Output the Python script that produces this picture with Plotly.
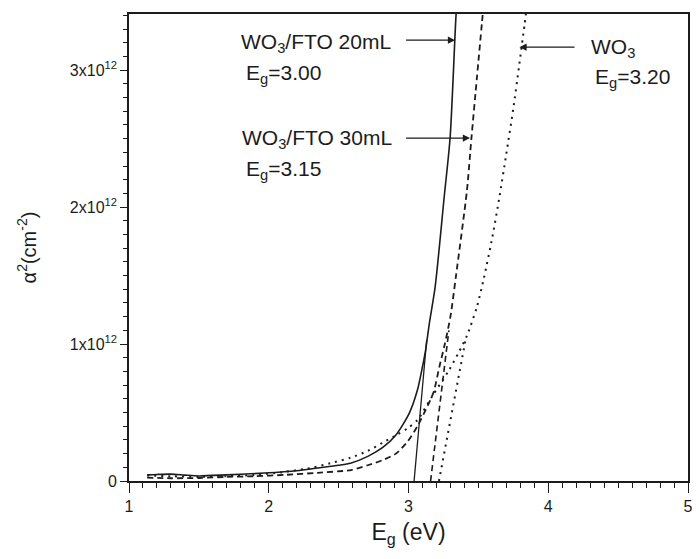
import plotly.graph_objects as go

# ---- data (energy in eV, alpha^2 in units of 1e12 cm^-2) ----
x_20 = [1.13, 1.2, 1.3, 1.4, 1.5, 1.7, 1.97, 2.2, 2.35, 2.5, 2.585, 2.709, 2.816, 2.91, 3.005, 3.064, 3.10, 3.123, 3.149, 3.191, 3.255, 3.298, 3.34, 3.345]
y_20 = [0.045, 0.048, 0.05, 0.043, 0.037, 0.045, 0.058, 0.075, 0.095, 0.115, 0.13, 0.18, 0.245, 0.336, 0.494, 0.664, 0.834, 0.96, 1.15, 1.42, 2.07, 2.51, 3.40, 3.45]

x_30 = [1.13, 1.3, 1.5, 1.7, 1.9, 2.12, 2.35, 2.589, 2.709, 2.816, 2.91, 2.993, 3.064, 3.123, 3.18, 3.22, 3.26, 3.30, 3.34, 3.418, 3.45, 3.49, 3.525, 3.535]
y_30 = [0.025, 0.02, 0.022, 0.03, 0.035, 0.045, 0.06, 0.08, 0.115, 0.153, 0.20, 0.287, 0.40, 0.52, 0.65, 0.83, 1.0, 1.2, 1.50, 2.12, 2.50, 2.95, 3.34, 3.45]

x_wo3 = [1.13, 1.3, 1.5, 1.7, 1.9, 2.1, 2.3, 2.44, 2.585, 2.709, 2.816, 2.922, 2.993, 3.064, 3.17, 3.29, 3.36, 3.418, 3.489, 3.539, 3.60, 3.65, 3.70, 3.75, 3.79, 3.83, 3.845]
y_wo3 = [0.04, 0.035, 0.03, 0.035, 0.045, 0.065, 0.095, 0.13, 0.17, 0.22, 0.28, 0.34, 0.385, 0.445, 0.62, 0.81, 0.94, 1.06, 1.27, 1.48, 1.78, 2.07, 2.39, 2.72, 3.02, 3.33, 3.45]

# tangent (band-gap extrapolation) lines
tan20_x = [3.04, 3.13]
tan20_y = [0.0, 1.03]
tan30_x = [3.158, 3.289]
tan30_y = [0.0, 1.10]
tanwo3_x = [3.218, 3.41]
tanwo3_y = [0.0, 1.04]

SCALE = 1e12
y_tickvals = [0, 1, 2, 3]
y_ticktext = ["0", "1x10<sup>12</sup>", "2x10<sup>12</sup>", "3x10<sup>12</sup>"]
x_tickvals = [1, 2, 3, 4, 5]

INK = "#1c1c1c"
FONT = "Liberation Sans, Arial, Helvetica, sans-serif"

def s(v):
    return [a * SCALE for a in v]

fig = go.Figure()
fig.add_trace(go.Scatter(x=x_20, y=s(y_20), mode="lines", line=dict(color=INK, width=1.6, shape="spline", smoothing=0.7), showlegend=False))
fig.add_trace(go.Scatter(x=x_30, y=s(y_30), mode="lines", line=dict(color=INK, width=1.8, dash="6px,4px", shape="spline", smoothing=0.7), showlegend=False))
fig.add_trace(go.Scatter(x=x_wo3, y=s(y_wo3), mode="lines", line=dict(color=INK, width=2.0, dash="2px,5px", shape="spline", smoothing=0.7), showlegend=False))
fig.add_trace(go.Scatter(x=tan20_x, y=s(tan20_y), mode="lines", line=dict(color=INK, width=1.3), showlegend=False))
fig.add_trace(go.Scatter(x=tan30_x, y=s(tan30_y), mode="lines", line=dict(color=INK, width=1.6, dash="6px,4px"), showlegend=False))
fig.add_trace(go.Scatter(x=tanwo3_x, y=s(tanwo3_y), mode="lines", line=dict(color=INK, width=2.0, dash="2px,5px"), showlegend=False))

labels = [
    ("WO<sub>3</sub>/FTO 20mL", 1.787, 3.197),
    ("E<sub>g</sub>=3.00", 1.823, 2.97),
    ("WO<sub>3</sub>/FTO 30mL", 1.794, 2.50),
    ("E<sub>g</sub>=3.15", 1.823, 2.27),
    ("WO<sub>3</sub>", 4.29, 3.16),
    ("E<sub>g</sub>=3.20", 4.319, 2.94),
]
for t, x, y in labels:
    fig.add_annotation(x=x, y=y * SCALE, text=t, showarrow=False, xanchor="left", yanchor="middle",
                       font=dict(family=FONT, size=21, color=INK))

arrows = [
    (3.333, 3.219, 2.972, 3.219),
    (3.44, 2.504, 2.972, 2.504),
    (3.794, 3.168, 4.199, 3.168),
]
for hx, hy, tx, ty in arrows:
    fig.add_annotation(x=hx, y=hy * SCALE, ax=tx, ay=ty * SCALE, axref="x", ayref="y", xref="x", yref="y",
                       text="", showarrow=True, arrowhead=2, arrowsize=1.1, arrowwidth=1.3,
                       arrowcolor=INK, standoff=0)

fig.update_layout(
    width=699, height=559,
    margin=dict(l=129, r=6, t=14, b=78),
    paper_bgcolor="white", plot_bgcolor="white",
    font=dict(family=FONT, color=INK),
)
fig.update_xaxes(
    range=[1, 5], showgrid=False, zeroline=False,
    showline=True, linecolor=INK, linewidth=1.6, mirror=True,
    ticks="outside", ticklen=10, tickwidth=1.4, tickcolor=INK,
    tickvals=x_tickvals, tickfont=dict(size=16, family=FONT, color=INK),
    minor=dict(ticks="outside", dtick=0.1, ticklen=5, tickwidth=1.2, tickcolor=INK),
    title=dict(text="E<sub>g</sub> (eV)", font=dict(size=23, family=FONT, color=INK), standoff=10),
)
fig.update_yaxes(
    range=[0, 3.41 * SCALE], showgrid=False, zeroline=False,
    showline=True, linecolor=INK, linewidth=1.6, mirror=True,
    ticks="outside", ticklen=7, tickwidth=1.4, tickcolor=INK,
    tickvals=[v * SCALE for v in y_tickvals], ticktext=y_ticktext,
    tickfont=dict(size=16, family=FONT, color=INK),
    minor=dict(ticks="outside", dtick=0.1 * SCALE, ticklen=4, tickwidth=1.2, tickcolor=INK),
    title=dict(text="α<sup>2</sup>(cm<sup>-2</sup>)", font=dict(size=20, family=FONT, color=INK), standoff=28),
)

fig.write_html("out.html")
